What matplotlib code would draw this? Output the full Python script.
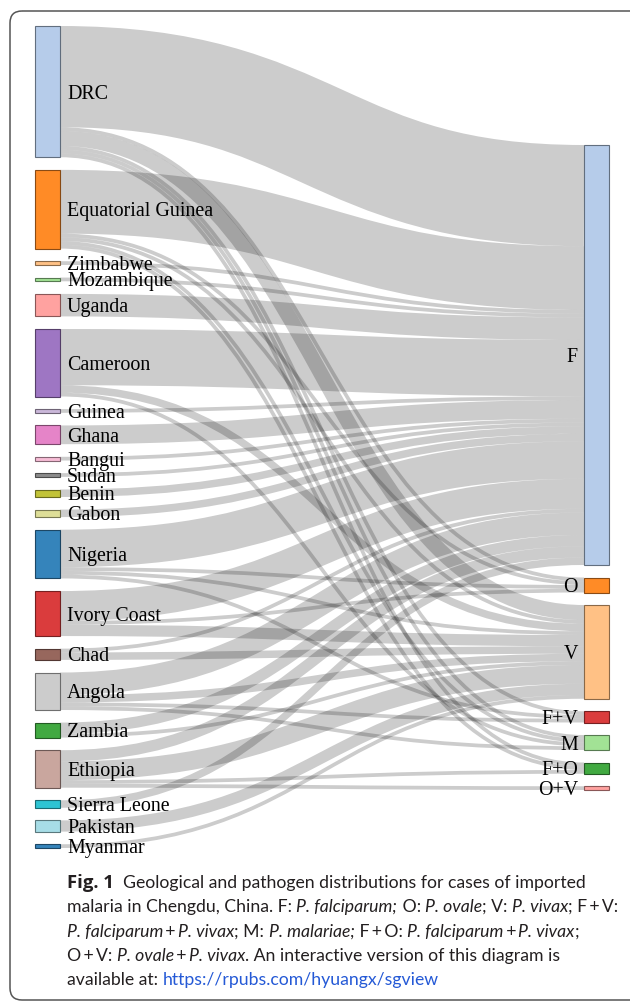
import matplotlib
matplotlib.use("Agg")
import matplotlib.pyplot as plt
from matplotlib.path import Path
from matplotlib.patches import PathPatch, Rectangle, FancyBboxPatch
import matplotlib.colors as mcolors

# ---------------- data ----------------
countries = ["DRC", "Equatorial Guinea", "Zimbabwe", "Mozambique", "Uganda",
             "Cameroon", "Guinea", "Ghana", "Bangui", "Sudan", "Benin", "Gabon",
             "Nigeria", "Ivory Coast", "Chad", "Angola", "Zambia", "Ethiopia",
             "Sierra Leone", "Pakistan", "Myanmar"]
pathogens = ["F", "O", "V", "F+V", "M", "F+O", "O+V"]

# cases per country (same order as countries) for each pathogen
cases_F   = [27, 17, 1, 1, 6, 15, 1, 5, 1, 1, 2, 2, 10, 8, 1, 6, 3, 3, 2, 0, 0]
cases_O   = [1, 1, 0, 0, 0, 0, 0, 0, 0, 0, 0, 0, 1, 1, 0, 0, 0, 0, 0, 0, 0]
cases_V   = [4, 1, 0, 0, 0, 2, 0, 0, 0, 0, 0, 0, 1, 3, 2, 2, 1, 5, 0, 3, 1]
cases_FV  = [1, 0, 0, 0, 0, 0, 0, 0, 0, 0, 0, 0, 1, 0, 0, 1, 0, 0, 0, 0, 0]
cases_M   = [1, 1, 0, 0, 0, 1, 0, 0, 0, 0, 0, 0, 0, 0, 0, 1, 0, 0, 0, 0, 0]
cases_FO  = [1, 1, 0, 0, 0, 0, 0, 0, 0, 0, 0, 0, 0, 0, 0, 0, 0, 1, 0, 0, 0]
cases_OV  = [0, 0, 0, 0, 0, 0, 0, 0, 0, 0, 0, 0, 0, 0, 0, 0, 0, 1, 0, 0, 0]

country_colors = ["#aec7e8", "#ff7f0e", "#ffbb78", "#98df8a", "#ff9896",
                  "#9467bd", "#c5b0d5", "#e377c2", "#f7b6d2", "#7f7f7f",
                  "#bcbd22", "#dbdb8d", "#1f77b4", "#d62728", "#8c564b",
                  "#c7c7c7", "#2ca02c", "#c49c94", "#17becf", "#9edae5",
                  "#1f77b4"]
pathogen_colors = ["#aec7e8", "#ff7f0e", "#ffbb78", "#d62728", "#98df8a",
                   "#2ca02c", "#ff9896"]

caption_lines = [
    [("Fig. 1", "bold"), ("  Geological and pathogen distributions for cases of imported", "normal")],
    [("malaria in Chengdu, China. F: ", "normal"), ("P. falciparum;", "italic"),
     (" O: ", "normal"), ("P. ovale", "italic"), ("; V: ", "normal"),
     ("P. vivax", "italic"), ("; F\u2009+\u2009V:", "normal")],
    [("P. falciparum", "italic"), ("\u2009+\u2009", "normal"), ("P. vivax", "italic"),
     ("; M: ", "normal"), ("P. malariae;", "italic"), (" F\u2009+\u2009O: ", "normal"),
     ("P. falciparum", "italic"), ("\u2009+\u2009", "normal"), ("P. vivax", "italic"),
     (";", "normal")],
    [("O\u2009+\u2009V: ", "normal"), ("P. ovale", "italic"), ("\u2009+\u2009", "normal"),
     ("P. vivax", "italic"), (". An interactive version of this diagram is", "normal")],
    [("available at: ", "normal"), ("https://rpubs.com/hyuangx/sgview", "link")],
]

# ---------------- layout ----------------
W, H, DPI = 630, 1008, 100
TOP, BOTTOM = 26, 848
PAD = 12.6
PAD_RIGHT = 12.5
NODE_W = 25
X_LEFT = 35
X_RIGHT = 584
RIGHT_TOP = 145
LABEL_PX = 20

flows = [cases_F, cases_O, cases_V, cases_FV, cases_M, cases_FO, cases_OV]
left_vals = [sum(f[i] for f in flows) for i in range(len(countries))]
right_vals = [sum(f) for f in flows]
total = sum(left_vals)
ky = (BOTTOM - TOP - (len(countries) - 1) * PAD) / total

left_y = []
y = TOP
for v in left_vals:
    left_y.append(y)
    y += v * ky + PAD
right_y = []
y = RIGHT_TOP
for v in right_vals:
    right_y.append(y)
    y += v * ky + PAD_RIGHT

fig = plt.figure(figsize=(W / DPI, H / DPI), dpi=DPI)
ax = fig.add_axes([0, 0, 1, 1])
ax.set_xlim(0, W)
ax.set_ylim(H, 0)
ax.axis("off")

# links: source-side ordering by target y, target-side by source y
src_off = [0.0] * len(countries)
tgt_off = [0.0] * len(pathogens)
links = []
for i in range(len(countries)):
    for j in range(len(pathogens)):
        v = flows[j][i]
        if v > 0:
            links.append([i, j, v, 0, 0])
for lk in sorted(links, key=lambda l: (l[0], right_y[l[1]])):
    lk[3] = left_y[lk[0]] + src_off[lk[0]] + lk[2] * ky / 2
    src_off[lk[0]] += lk[2] * ky
for lk in sorted(links, key=lambda l: (l[1], left_y[l[0]])):
    lk[4] = right_y[lk[1]] + tgt_off[lk[1]] + lk[2] * ky / 2
    tgt_off[lk[1]] += lk[2] * ky

x0 = X_LEFT + NODE_W
x1 = X_RIGHT
xm = (x0 + x1) / 2
for i, j, v, ys, yt in sorted(links, key=lambda l: -l[2]):
    path = Path([(x0, ys), (xm, ys), (xm, yt), (x1, yt)],
                [Path.MOVETO, Path.CURVE4, Path.CURVE4, Path.CURVE4])
    ax.add_patch(PathPatch(path, fill=False, edgecolor=(0, 0, 0, 0.2),
                           linewidth=v * ky * 72 / DPI, capstyle="butt", zorder=2))

def darker(c):
    r, g, b = mcolors.to_rgb(c)
    return (r * 0.49, g * 0.49, b * 0.49)

serif = ["Liberation Serif", "DejaVu Serif"]
fs = LABEL_PX * 72 / DPI
for name, v, yy, col in zip(countries, left_vals, left_y, country_colors):
    h = v * ky
    ax.add_patch(Rectangle((X_LEFT, yy), NODE_W, h, facecolor=col, edgecolor=darker(col),
                           linewidth=0.8, alpha=0.9, zorder=3))
    ax.text(X_LEFT + NODE_W + 7, yy + h / 2 + 0.35 * LABEL_PX, name, family=serif,
            fontsize=fs, va="baseline", ha="left", zorder=4)
for name, v, yy, col in zip(pathogens, right_vals, right_y, pathogen_colors):
    h = v * ky
    ax.add_patch(Rectangle((X_RIGHT, yy), NODE_W, h, facecolor=col, edgecolor=darker(col),
                           linewidth=0.8, alpha=0.9, zorder=3))
    ax.text(X_RIGHT - 6, yy + h / 2 + 0.35 * LABEL_PX, name, family=serif,
            fontsize=fs, va="baseline", ha="right", zorder=4)

# frame
ax.add_patch(FancyBboxPatch((10, 11), 640, 989, boxstyle="round,pad=0,rounding_size=12",
                            fill=False, edgecolor="#555555", linewidth=1.1, zorder=1))

# caption
fig.canvas.draw()
renderer = fig.canvas.get_renderer()
cap_font = ["Lato", "DejaVu Sans"]
cap_fs = 12.7
line_y = [888, 912, 937, 961, 985]
for segs, yb in zip(caption_lines, line_y):
    x = 67
    for txt, sty in segs:
        kw = dict(family=cap_font, fontsize=cap_fs, va="baseline", ha="left",
                  color="#231f20")
        if sty == "bold":
            kw["weight"] = "bold"
            kw["family"] = ["Open Sans", "DejaVu Sans"]
            kw["fontsize"] = cap_fs + 0.6
        elif sty == "italic":
            kw["style"] = "italic"
        elif sty == "link":
            kw["color"] = "#2459d6"
        t = ax.text(x, yb, txt, **kw)
        bb = t.get_window_extent(renderer)
        x += bb.width

fig.savefig("out.png", dpi=DPI)
